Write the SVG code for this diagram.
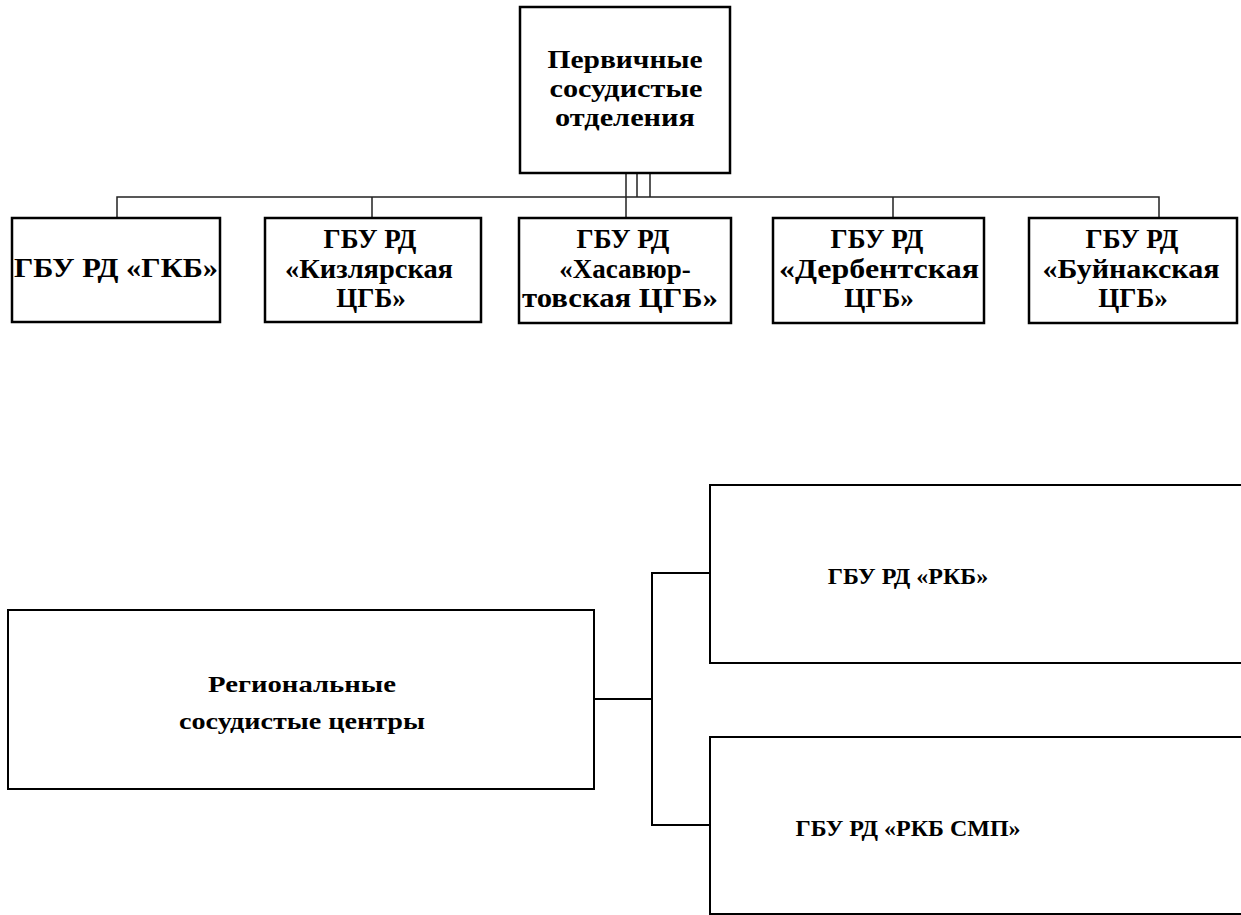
<svg xmlns="http://www.w3.org/2000/svg" width="1241" height="915" viewBox="0 0 1241 915">
<style>
.box{fill:#fff;stroke:#000;stroke-width:2.5}
.box2{fill:#fff;stroke:#000;stroke-width:2}
.ln{fill:none;stroke:#222;stroke-width:1.5}
.ln2{fill:none;stroke:#000;stroke-width:2}
text{font-family:"Liberation Serif","Times New Roman",serif;font-weight:bold;fill:#000;text-anchor:middle}
.t1{font-size:26px}
.t2{font-size:27px}
.t3{font-size:24px}
</style>
<rect width="1241" height="915" fill="#fff"/>
<g id="connectors">
<path class="ln" d="M626,173V197M637,173V197M650,173V197"/>
<path class="ln" d="M117,218V197H1159V218M372,197V218M626,197V218M893,197V218"/>
<path class="ln2" d="M594,699H652M710,573H652V825H710"/>
</g>
<g id="n-top">
<rect class="box" x="520" y="7" width="210" height="166"/>
<text class="t1" x="625" y="68" textLength="155" lengthAdjust="spacingAndGlyphs">Первичные</text>
<text class="t1" x="626" y="97" textLength="153" lengthAdjust="spacingAndGlyphs">сосудистые</text>
<text class="t1" x="625" y="126" textLength="140" lengthAdjust="spacingAndGlyphs">отделения</text>
</g>
<g id="n-gkb">
<rect class="box" x="12" y="218" width="208" height="104"/>
<text class="t2" x="116" y="277" textLength="204" lengthAdjust="spacingAndGlyphs">ГБУ РД «ГКБ»</text>
</g>
<g id="n-kizl">
<rect class="box" x="265" y="218" width="216" height="104"/>
<text class="t2" x="370" y="248">ГБУ РД</text>
<text class="t2" x="369" y="278" textLength="168" lengthAdjust="spacingAndGlyphs">«Кизлярская</text>
<text class="t2" x="371" y="307">ЦГБ»</text>
</g>
<g id="n-khas">
<rect class="box" x="519" y="218" width="212" height="105"/>
<text class="t2" x="623" y="248">ГБУ РД</text>
<text class="t2" x="625" y="278">«Хасавюр-</text>
<text class="t2" x="620" y="307" textLength="196" lengthAdjust="spacingAndGlyphs">товская ЦГБ»</text>
</g>
<g id="n-derb">
<rect class="box" x="773" y="218" width="211" height="105"/>
<text class="t2" x="877" y="248">ГБУ РД</text>
<text class="t2" x="879" y="278" textLength="200" lengthAdjust="spacingAndGlyphs">«Дербентская</text>
<text class="t2" x="879" y="307">ЦГБ»</text>
</g>
<g id="n-buin">
<rect class="box" x="1029" y="218" width="208" height="105"/>
<text class="t2" x="1132" y="248">ГБУ РД</text>
<text class="t2" x="1131" y="278" textLength="177" lengthAdjust="spacingAndGlyphs">«Буйнакская</text>
<text class="t2" x="1133" y="307">ЦГБ»</text>
</g>
<g id="n-regional">
<rect class="box2" x="8" y="610" width="586" height="179"/>
<text class="t3" x="302" y="692" textLength="188" lengthAdjust="spacingAndGlyphs">Региональные</text>
<text class="t3" x="302" y="729" textLength="246" lengthAdjust="spacingAndGlyphs">сосудистые центры</text>
</g>
<g id="n-rkb">
<rect class="box2" x="710" y="485" width="545" height="178"/>
<text class="t3" x="908" y="584">ГБУ РД «РКБ»</text>
</g>
<g id="n-rkbsmp">
<rect class="box2" x="710" y="737" width="545" height="177"/>
<text class="t3" x="908" y="836">ГБУ РД «РКБ СМП»</text>
</g>
</svg>
